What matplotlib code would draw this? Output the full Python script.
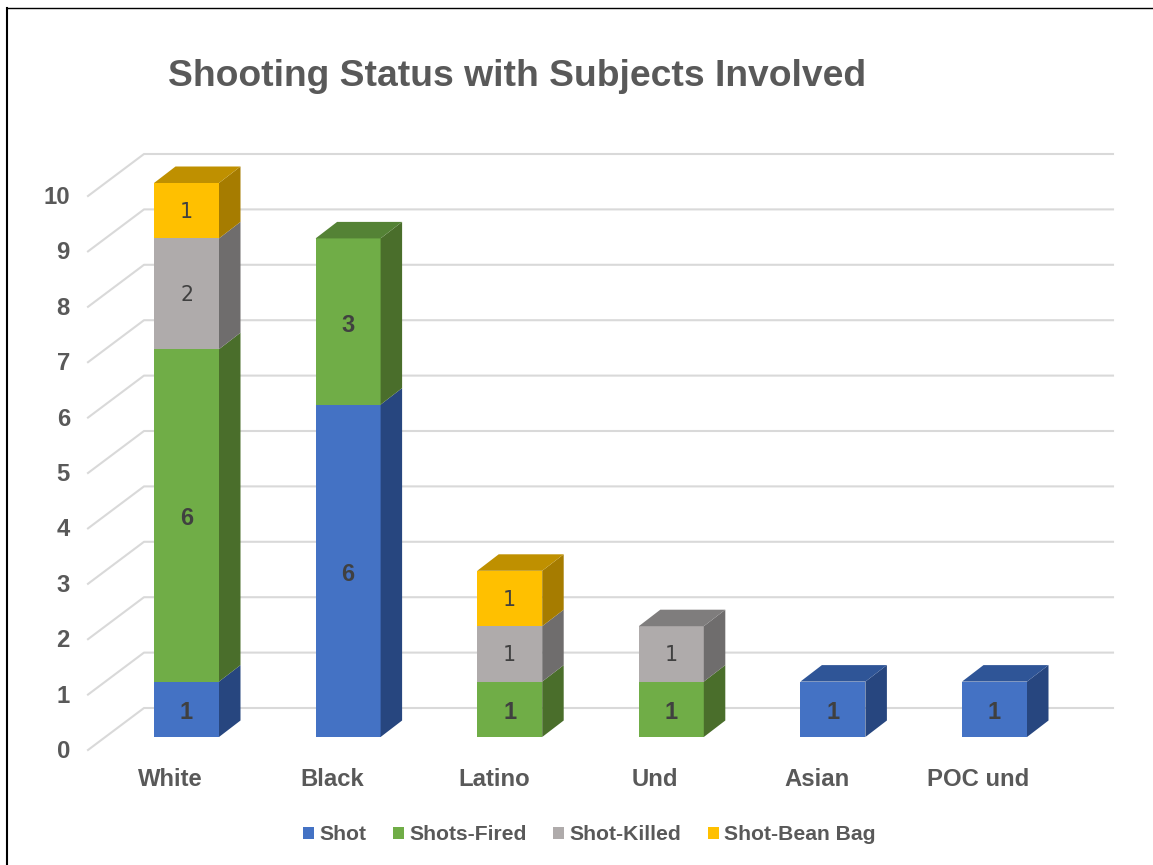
"""Stacked pseudo-3D bars: shooting status by subject group."""
import matplotlib; matplotlib.use("Agg")
import matplotlib.pyplot as plt
from matplotlib.lines import Line2D
from matplotlib.patches import Patch, Polygon
from matplotlib.transforms import ScaledTranslation

plt.rcParams["font.family"] = ["Liberation Sans", "DejaVu Sans"]

categories = ["White", "Black", "Latino", "Und", "Asian", "POC und"]
series_names = ["Shot", "Shots-Fired", "Shot-Killed", "Shot-Bean Bag"]
shot = [1, 6, 0, 0, 1, 1]
shots_fired = [6, 3, 1, 1, 0, 0]
shot_killed = [2, 0, 1, 1, 0, 0]
shot_bean_bag = [1, 0, 1, 0, 0, 0]
yticks = list(range(11))

series = [shot, shots_fired, shot_killed, shot_bean_bag]
front = ["#4472C4", "#70AD47", "#AFABAB", "#FFC000"]
side = ["#27467F", "#4A6E2B", "#6F6D6D", "#A67C00"]
top = ["#2F5597", "#548235", "#7F7D7D", "#BF9000"]
label_weight = ["bold", "bold", "normal", "normal"]
GREY = "#595959"
W, H = 1153, 865

# pixel layout of the plot, converted to data units below
PX_X0, PX_STEP = 186.5, 161.6
PX_Y0, PX_UNIT = 737, 55.4

fig = plt.figure(figsize=(W / 100, H / 100), dpi=100, facecolor="white")
ax = fig.add_axes([88 / W, (H - PX_Y0) / H, (1113 - 88) / W, 10 * PX_UNIT / H])
ax.set_xlim((88 - PX_X0) / PX_STEP, (1113 - PX_X0) / PX_STEP)
ax.set_ylim(0, 10)
for sp in ax.spines.values():
    sp.set_visible(False)
ax.patch.set_visible(False)

# walls: back gridlines + diagonal floor lines
wall_dy = 29 / PX_UNIT
floor_dy = 13 / PX_UNIT
wall_x = (144 - PX_X0) / PX_STEP
left_x = (88 - PX_X0) / PX_STEP
right_x = (1113 - PX_X0) / PX_STEP
for v in yticks:
    ax.plot([left_x, wall_x, right_x], [v - floor_dy, v + wall_dy, v + wall_dy],
            color="#D9D9D9", lw=1.5, clip_on=False, zorder=1, solid_joinstyle="round")

# bars
bw = 65 / PX_STEP
dx = 21.5 / PX_STEP
dy = 16.5 / PX_UNIT
xs = list(range(len(categories)))
bottoms = [0] * len(categories)
for s, vals in enumerate(series):
    ax.bar(xs, vals, bw, bottom=bottoms, color=front[s], zorder=3, clip_on=False)
    for i, v in enumerate(vals):
        if v == 0:
            continue
        b = bottoms[i]
        xr = i + bw / 2
        ax.add_patch(Polygon([(xr, b), (xr + dx, b + dy), (xr + dx, b + v + dy), (xr, b + v)],
                             facecolor=side[s], edgecolor="none", zorder=3, clip_on=False))
        bold = label_weight[s] == "bold"
        label_shift = (3.5 if bold else 1.5) / PX_UNIT
        ax.text(i, b + v / 2 - label_shift, str(v), ha="center", va="center", zorder=5,
                fontsize=17 if bold else 14.8, fontweight=label_weight[s], color="#404040",
                family=["Liberation Sans"] if bold else ["DejaVu Sans"])
    bottoms = [b + v for b, v in zip(bottoms, vals)]

# top faces use the colour of the uppermost segment
for i, total in enumerate(bottoms):
    s = max(k for k in range(len(series)) if series[k][i] > 0)
    xl, xr = i - bw / 2, i + bw / 2
    ax.add_patch(Polygon([(xl, total), (xr, total), (xr + dx, total + dy), (xl + dx, total + dy)],
                         facecolor=top[s], edgecolor="none", zorder=4, clip_on=False))

# tick labels sit off the front plane, so shift them in pixels
ax.set_xticks(xs, categories)
ax.set_yticks(yticks, [str(v) for v in yticks])
ax.tick_params(axis="both", length=0, labelsize=17.2, labelcolor=GREY)
ax.tick_params(axis="x", pad=22.5)
ax.tick_params(axis="y", pad=13)
for lab in ax.get_xticklabels():
    lab.set_fontweight("bold")
    lab.set_transform(lab.get_transform() + ScaledTranslation(-16 / 100, 0, fig.dpi_scale_trans))
for lab in ax.get_yticklabels():
    lab.set_fontweight("bold")
    lab.set_transform(lab.get_transform() + ScaledTranslation(0, -12 / 100, fig.dpi_scale_trans))

fig.text(168 / W, 1 - 76 / H, "Shooting Status with Subjects Involved", ha="left", va="center",
         fontsize=26.8, fontweight="bold", color=GREY)

handles = [Patch(facecolor=c, edgecolor="none") for c in front]
fig.legend(handles, series_names, loc="center", bbox_to_anchor=(589.5 / W, 1 - 835 / H), ncol=4,
           frameon=False, handlelength=0.52, handleheight=0.52, handletextpad=0.24,
           columnspacing=1.27, prop={"size": 15.2, "weight": "bold"}, labelcolor=GREY)

# outer frame of the screenshot
fig.add_artist(Line2D([7 / W, 7 / W], [0, 1 - 8 / H], color="black", lw=1.5))
fig.add_artist(Line2D([7 / W, 1], [1 - 8 / H, 1 - 8 / H], color="black", lw=1))

fig.savefig("out.png", dpi=100, facecolor="white")
plt.close(fig)
